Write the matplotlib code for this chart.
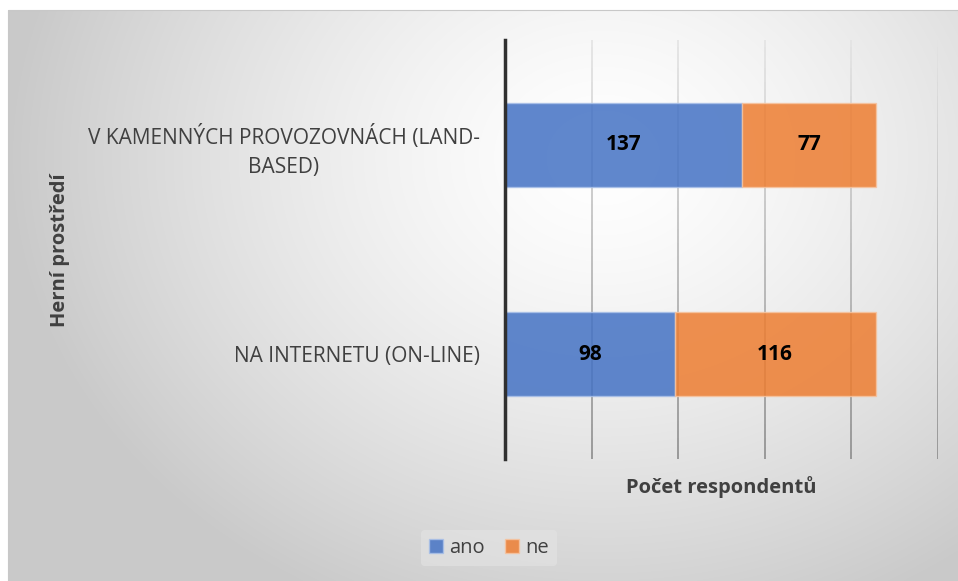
import numpy as np
import matplotlib.pyplot as plt
from matplotlib.collections import LineCollection
from matplotlib.patches import Rectangle

categories = ["NA INTERNETU (ON-LINE)", "V KAMENNÝCH PROVOZOVNÁCH (LAND-\nBASED)"]
ano = [98, 137]
ne = [116, 77]
series_names = ["ano", "ne"]
ticks = [0, 50, 100, 150, 200, 250]

plt.rcParams['font.family'] = ['Open Sans', 'DejaVu Sans']

fig = plt.figure(figsize=(9.58, 5.81), dpi=100)
W, H = 958, 581

# background: radial grey gradient in chart area
bg = fig.add_axes([0, 0, 1, 1], zorder=-10)
bg.set_xlim(0, W)
bg.set_ylim(H, 0)
bg.axis('off')
yy, xx = np.mgrid[0:H, 0:W]
d = np.sqrt(((xx - 600) / 620.0) ** 2 + ((yy - 150) / 520.0) ** 2)
val = np.clip(1.0 - 0.22 * d ** 1.4, 0.79, 1.0)
bg.imshow(np.dstack([val, val, val]), extent=(8, W, H, 10), origin='upper',
          aspect='auto', zorder=0)
bg.add_patch(Rectangle((8, 10), W, H, fill=False, edgecolor='#c8c8c8', lw=0.8, zorder=1))

ax = fig.add_axes([505 / W, 1 - 459 / H, (938 - 505) / W, (459 - 40) / H])
ax.patch.set_alpha(0)
ax.set_xlim(ticks[0], ticks[-1])
ax.set_ylim(-0.5, 1.5)

# gridlines getting darker toward the bottom
n = 60
ys = np.linspace(-0.5, 1.5, n + 1)
for t in ticks[1:]:
    segs = [[(t, ys[i]), (t, ys[i + 1])] for i in range(n)]
    frac = np.linspace(0, 1, n)
    cols = [(0.55 + 0.34 * f,) * 3 for f in frac]
    ax.add_collection(LineCollection(segs, colors=cols, linewidths=1.2, zorder=0))

y = np.arange(len(categories))
b1 = ax.barh(y, ano, height=0.4, color='#4472c4', alpha=0.85, edgecolor='#a9c0e8',
             linewidth=1, label=series_names[0], zorder=2)
b2 = ax.barh(y, ne, left=ano, height=0.4, color='#ed7d31', alpha=0.85, edgecolor='#f6c4a0',
             linewidth=1, label=series_names[1], zorder=2)
for bars in (b1, b2):
    ax.bar_label(bars, label_type='center', fontsize=15, fontweight='bold', color='black')

ax.set_yticks(y)
ax.set_yticklabels(categories, fontsize=15, color='#404040', ha='right', multialignment='center',
                   linespacing=1.5)
ax.tick_params(axis='y', length=0, pad=18)
ax.set_xticks(ticks)
ax.set_xticklabels([])
ax.tick_params(axis='x', length=0)
for s in ['top', 'right', 'bottom']:
    ax.spines[s].set_visible(False)
ax.spines['left'].set_color('#303030')
ax.spines['left'].set_linewidth(2.5)

ax.set_xlabel("Počet respondentů", fontsize=14.5, fontweight='bold', color='#404040', labelpad=9)
fig.text(60 / W, 1 - 250 / H, "Herní prostředí", rotation=90, fontsize=14.5, fontweight='bold',
         color='#404040', ha='center', va='center')

leg = fig.legend(handles=[b1, b2], loc='center', bbox_to_anchor=(489 / W, 1 - 548 / H), ncol=2,
                 frameon=True, fontsize=14.5, handlelength=0.7, handleheight=0.7,
                 handletextpad=0.3, columnspacing=1.0)
leg.get_frame().set_facecolor('#e4e4e4')
leg.get_frame().set_edgecolor('none')
leg.get_frame().set_alpha(0.6)
for t in leg.get_texts():
    t.set_color('#404040')

fig.savefig('out.png', dpi=100)
